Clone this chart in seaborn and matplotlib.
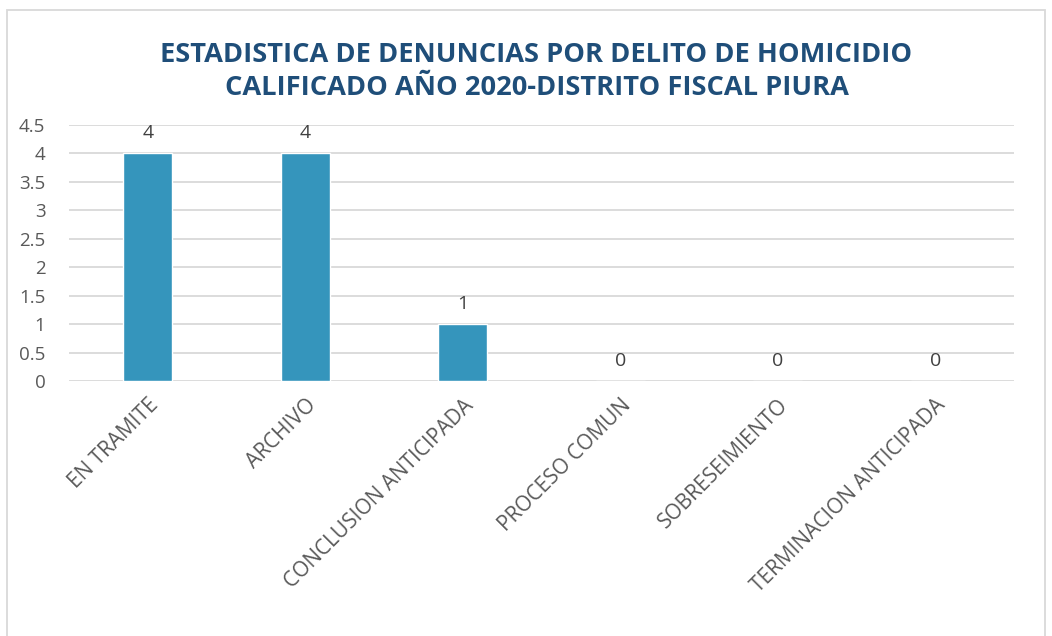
import matplotlib
matplotlib.use("Agg")
import matplotlib.pyplot as plt
import seaborn as sns
import pandas as pd
from matplotlib.patches import Rectangle

categories = ["EN TRAMITE", "ARCHIVO", "CONCLUSION ANTICIPADA", "PROCESO COMUN",
              "SOBRESEIMIENTO", "TERMINACION ANTICIPADA"]
values = [4, 4, 1, 0, 0, 0]
yticks = [0, 0.5, 1, 1.5, 2, 2.5, 3, 3.5, 4, 4.5]
ytick_labels = ["0", "0.5", "1", "1.5", "2", "2.5", "3", "3.5", "4", "4.5"]
title = "ESTADISTICA DE DENUNCIAS POR DELITO DE HOMICIDIO\nCALIFICADO AÑO 2020-DISTRITO FISCAL PIURA"

sns.set_theme(style="white")
plt.rcParams['font.family'] = ['Open Sans', 'DejaVu Sans']

df = pd.DataFrame({"cat": categories, "val": values})

fig = plt.figure(figsize=(10.52, 6.36), dpi=100)
ax = fig.add_axes([69/1052, 1 - 381/636, (1014 - 69)/1052, (381 - 125)/636])

sns.barplot(data=df, x="cat", y="val", color="#3595BC", saturation=1, width=0.31, ax=ax, zorder=3)

ax.set_ylim(0, 4.5)
ax.set_yticks(yticks)
ax.set_yticklabels(ytick_labels)
ax.yaxis.grid(True, color="#d9d9d9", linewidth=1.3, zorder=0)
ax.set_axisbelow(True)
for s in ax.spines.values():
    s.set_visible(False)
ax.tick_params(axis="both", length=0, labelcolor="#595959")
ax.tick_params(axis="y", pad=17, labelsize=13.5)
ax.tick_params(axis="x", pad=10, labelsize=15)
ax.set_xlabel("")
ax.set_ylabel("")
plt.setp(ax.get_xticklabels(), rotation=45, ha="right", rotation_mode="anchor")

for c in ax.containers:
    ax.bar_label(c, labels=[str(v) for v in values], padding=8, fontsize=14, color="#404040")

fig.text(0.51, 1 - 71.5/636, title, ha="center", va="center", fontsize=19.6, fontweight="bold",
         color="#1F4E79", linespacing=1.38)

fig.patches.append(Rectangle((7/1052, -0.1), (1045 - 7)/1052, 1.1 - 10/636,
                             transform=fig.transFigure, fill=False, edgecolor="#d9d9d9",
                             linewidth=1.3))

fig.savefig("out.png", dpi=100, facecolor="white")
